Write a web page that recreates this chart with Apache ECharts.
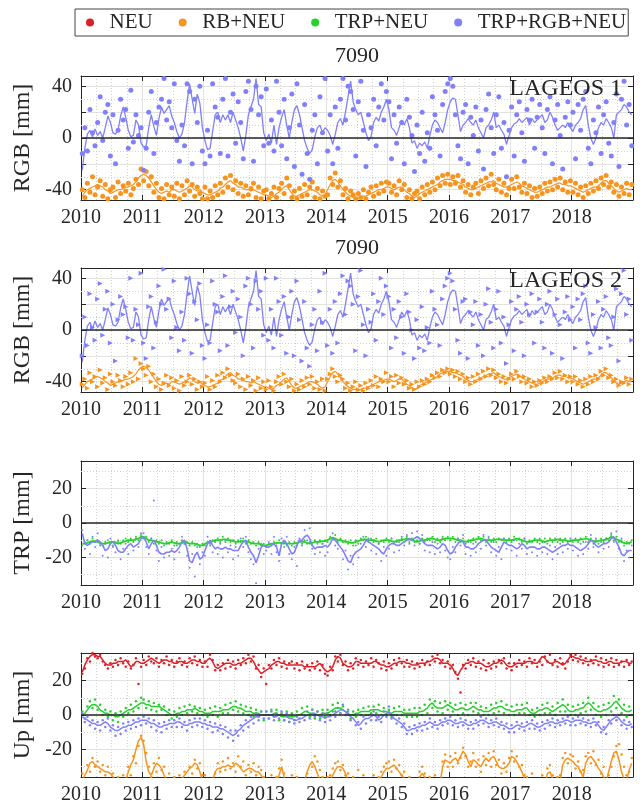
<!DOCTYPE html>
<html>
<head>
<meta charset="utf-8">
<title>7090</title>
<script src="https://cdn.jsdelivr.net/npm/echarts@6/dist/echarts.min.js"></script>
<style>
  html, body { margin: 0; padding: 0; background: #fff; }
  #chart { width: 643px; height: 806px; }
</style>
</head>
<body>
<div id="chart"></div>
<script>
// Station 7090: weekly residual series 2010-2019, one row per year.
const YEAR0 = 2010;
const YEAR1 = 2019;

// RGB panel (LAGEOS), smoothed curves
const rgbAllLine = [
  [-25,-8,3,6,1,7,2,5,0,8,17,12,4,3,6,17,24,16,6,1,2,14,10,-4],
  [-7,-6,8,18,9,2,15,24,19,22,25,17,12,5,0,3,12,28,42,30,19,34,27,8],
  [-2,-9,-8,5,18,20,12,18,14,18,12,20,14,8,0,-10,2,18,24,30,46,26,24,4],
  [-2,3,-4,10,-5,8,16,22,10,0,12,22,25,18,8,-2,-8,-12,-9,1,8,10,4,8],
  [6,2,-5,3,12,15,10,20,32,44,28,22,18,20,12,4,-2,1,12,16,13,20,24,30],
  [22,8,6,2,8,14,10,15,8,-4,-2,-8,-4,-6,-3,-8,2,10,14,12,8,4,12,22],
  [28,31,30,18,5,10,12,15,12,10,14,8,4,0,8,10,14,20,8,10,6,3,-5,2],
  [8,11,12,15,12,14,16,10,15,12,14,16,18,12,14,20,16,10,6,8,10,8,12,8],
  [5,10,12,15,22,25,10,0,-5,0,8,12,10,15,12,8,0,18,20,22,26,24,20,18]
];
const rgbRbLine = [
  [-45,-42,-40,-39,-38,-37,-36,-37,-38,-40,-41,-43,-42,-41,-40,-40,-39,-38,-38,-37,-36,-34,-31,-29],
  [-28,-29,-31,-34,-37,-40,-42,-43,-42,-41,-42,-40,-40,-41,-42,-41,-40,-39,-37,-38,-40,-41,-40,-42],
  [-43,-44,-44,-43,-42,-41,-39,-38,-36,-34,-33,-35,-36,-38,-38,-39,-40,-40,-41,-40,-41,-42,-43,-44],
  [-44,-45,-46,-45,-43,-42,-40,-38,-37,-40,-43,-45,-45,-44,-43,-42,-41,-40,-40,-41,-42,-44,-45,-44],
  [-40,-36,-33,-32,-34,-37,-40,-42,-44,-45,-46,-46,-47,-46,-45,-45,-44,-43,-42,-41,-40,-40,-39,-38],
  [-38,-39,-40,-39,-38,-38,-40,-42,-43,-45,-46,-45,-43,-42,-41,-40,-39,-38,-37,-36,-34,-33,-32,-32],
  [-32,-33,-33,-34,-35,-36,-38,-39,-40,-40,-39,-38,-37,-36,-35,-34,-34,-33,-35,-36,-37,-38,-38,-37],
  [-36,-35,-34,-35,-37,-38,-39,-40,-41,-42,-42,-41,-40,-39,-38,-38,-37,-36,-35,-35,-36,-36,-37,-37],
  [-38,-39,-40,-41,-42,-41,-40,-39,-38,-38,-37,-35,-33,-33,-35,-37,-39,-41,-42,-41,-40,-39,-40,-40]
];

// LAGEOS 1 weekly estimates
const l1AllPts = [
  [-12,8,-10,22,4,-6,12,32,-2,20,26,-14,18,-20,6,30,14,22,-8,37,-3,18,2,8],
  [-25,-8,20,36,-12,12,24,30,46,14,28,8,42,-2,-18,10,-6,42,36,-20,30,12,40,-10],
  [-20,6,-14,42,24,16,-12,30,46,-14,20,34,-4,28,12,-16,36,44,22,-18,40,18,32,-6],
  [38,-4,14,-10,44,20,-6,30,-16,8,34,-22,42,10,-28,26,-12,-32,6,18,-20,32,4,46],
  [-10,18,-20,24,-8,30,46,14,40,36,22,-14,28,44,6,-22,18,8,30,-6,24,42,14,36],
  [28,-16,18,-4,24,12,-20,30,16,2,-26,10,-12,20,-18,4,-8,32,18,6,-14,26,36,42],
  [46,40,18,-6,-16,20,26,-20,16,2,24,-10,14,-24,22,34,8,-12,18,32,-8,12,-30,6],
  [24,-14,18,28,4,-18,22,14,30,-8,16,26,8,-12,22,32,-20,14,26,2,-24,16,28,10],
  [20,-16,26,6,30,36,-8,-20,14,4,24,-12,18,28,-4,-14,12,34,-22,30,44,10,26,-6]
];
const l1RbPts = [
  [-40,-46,-35,-42,-30,-44,-38,-33,-45,-36,-47,-40,-38,-46,-34,-43,-37,-41,-35,-44,-39,-32,-36,-24],
  [-33,-26,-37,-30,-42,-35,-46,-39,-47,-36,-44,-38,-45,-35,-47,-37,-44,-33,-41,-36,-45,-38,-43,-47],
  [-38,-47,-41,-46,-37,-44,-35,-42,-31,-38,-29,-40,-33,-43,-35,-45,-37,-44,-39,-35,-46,-38,-47,-41],
  [-40,-47,-43,-38,-46,-39,-35,-43,-31,-37,-46,-41,-47,-39,-45,-36,-44,-38,-34,-46,-39,-47,-41,-45],
  [-44,-31,-36,-27,-38,-33,-44,-39,-47,-41,-44,-47,-43,-46,-40,-47,-42,-38,-45,-37,-43,-35,-41,-34],
  [-35,-42,-37,-44,-33,-40,-36,-46,-40,-47,-43,-41,-47,-38,-44,-36,-42,-34,-40,-31,-37,-29,-35,-28],
  [-36,-30,-35,-29,-38,-33,-42,-36,-44,-38,-35,-43,-33,-39,-31,-37,-28,-36,-40,-32,-42,-35,-44,-39],
  [-32,-39,-30,-38,-42,-35,-43,-37,-46,-39,-45,-38,-43,-35,-41,-34,-40,-32,-38,-31,-40,-34,-42,-33],
  [-42,-35,-44,-38,-46,-37,-43,-35,-41,-33,-39,-31,-36,-29,-38,-34,-42,-36,-45,-38,-43,-35,-44,-36]
];

// LAGEOS 2 weekly estimates
const l2AllPts = [
  [-20,10,-12,28,2,-8,24,36,-4,16,30,-10,20,-24,8,26,12,18,-6,40,-8,16,4,44],
  [-10,-22,18,26,-14,6,34,20,47,16,24,-6,38,2,-16,14,-8,40,28,-18,22,8,36,-12],
  [-22,4,-10,38,20,14,-16,26,42,-12,18,30,-2,24,10,-20,34,40,20,-14,38,16,30,-4],
  [40,-8,16,-14,40,22,-4,26,-18,10,30,-20,38,8,-24,22,-14,-28,4,16,-16,30,6,44],
  [-12,16,-18,22,-10,28,42,12,38,34,20,-16,26,46,4,-20,16,6,28,-8,22,40,12,34],
  [26,-14,16,-6,22,10,-18,28,14,0,-22,8,-14,18,-16,2,-10,30,16,4,-12,24,34,40],
  [44,38,16,-8,-18,22,24,-22,14,4,22,-12,12,-20,20,32,6,-14,16,30,-10,10,-26,4],
  [22,-16,16,26,6,-20,20,12,28,-10,14,24,6,-14,20,30,-18,12,24,4,-22,14,26,8],
  [18,-14,24,8,28,34,-10,-18,12,2,22,-14,16,26,-6,-12,10,32,-24,28,46,12,24,-8]
];
const l2RbPts = [
  [-42,-38,-45,-33,-40,-36,-44,-31,-41,-37,-46,-34,-40,-43,-35,-39,-44,-36,-42,-33,-40,-22,-38,-26],
  [-30,-35,-28,-40,-34,-44,-38,-46,-41,-35,-43,-37,-45,-39,-47,-36,-43,-40,-35,-42,-38,-46,-40,-44],
  [-41,-36,-46,-39,-44,-35,-40,-33,-37,-30,-35,-39,-41,-34,-44,-38,-46,-36,-43,-39,-47,-37,-45,-40],
  [-46,-39,-44,-47,-40,-36,-42,-34,-40,-44,-38,-47,-42,-46,-39,-44,-37,-42,-36,-45,-40,-46,-38,-47],
  [-38,-34,-30,-36,-40,-35,-38,-45,-41,-47,-44,-40,-46,-43,-47,-41,-45,-39,-43,-36,-44,-38,-40,-33],
  [-40,-36,-44,-35,-41,-37,-42,-39,-45,-42,-46,-40,-44,-39,-42,-38,-40,-35,-37,-33,-36,-31,-33,-30],
  [-34,-31,-36,-32,-38,-34,-40,-37,-42,-36,-40,-34,-38,-32,-36,-30,-35,-31,-37,-34,-40,-36,-41,-38],
  [-34,-38,-32,-36,-40,-36,-41,-38,-44,-40,-43,-39,-41,-37,-40,-36,-38,-33,-37,-32,-38,-35,-40,-36],
  [-40,-36,-42,-39,-44,-38,-42,-36,-40,-35,-38,-32,-35,-30,-37,-35,-40,-38,-43,-40,-41,-37,-42,-38]
];

// TRP panel
const trpTrpLine = [
  [-12,-12,-11.5,-11,-10.5,-10.5,-11,-11.5,-12,-12,-11.5,-11,-11,-11.5,-12,-11.5,-11,-10.5,-10,-10,-10,-9.5,-9,-8],
  [-8,-9,-10,-10,-10.5,-11,-11,-11.5,-12,-12,-11.5,-11,-11.5,-12,-12,-11.5,-11,-11.5,-12,-12,-12,-12.5,-13,-13],
  [-12,-11.5,-11,-10.5,-10,-10,-10,-9.5,-9.5,-10,-10,-10.5,-11,-11,-10.5,-10.5,-11,-11,-11.5,-12,-12,-12,-12.5,-13],
  [-13,-12.5,-12,-12,-11.5,-11.5,-11.5,-12,-12,-12,-12,-12,-11.5,-11,-11,-11,-11.5,-12,-11.5,-11,-11,-11,-10.5,-10.5],
  [-10,-9,-8.5,-9,-10,-10,-10.5,-11,-11,-11.5,-11.5,-11,-10.5,-10,-9.5,-9.5,-10,-10,-10,-10.5,-11,-10.5,-10,-10],
  [-10,-10.5,-11,-10.5,-10,-10,-9.5,-9,-9.5,-10,-10.5,-11,-10.5,-10,-10,-9.5,-9,-9,-9.5,-10,-10,-9.5,-9,-9],
  [-9,-9,-9.5,-10,-10,-10.5,-11,-10.5,-10,-10,-9.5,-9,-9,-9.5,-10,-10,-10,-10,-9.5,-9.5,-9.5,-10,-10,-10],
  [-10,-9.5,-9,-9.5,-10,-10.5,-11,-11,-10.5,-10,-10,-10,-10.5,-11,-10.5,-10,-10,-10,-9.5,-10,-10,-10,-10.5,-10.5],
  [-10,-10,-10,-9.5,-9.5,-9,-9.5,-10,-10.5,-11,-10.5,-10,-10,-9.5,-9,-8,-8.5,-9.5,-10,-11,-11.5,-12,-11.5,-11]
];
const trpAllLine = [
  [-6,-12,-13,-12,-11,-11,-10,-11,-13,-16,-15,-12,-11,-13,-16,-17,-17,-15,-13,-12,-14,-13,-12,-9],
  [-8,-11,-15,-12,-10,-13,-17,-18,-18,-17,-17,-16,-17,-16,-14,-11,-10,-15,-22,-23,-19,-17,-21,-20],
  [-16,-12,-10,-13,-15,-14,-15,-15,-14,-15,-15,-16,-16,-16,-13,-11,-10,-14,-17,-19,-23,-19,-14,-13],
  [-14,-14,-13,-12,-14,-19,-12,-10,-12,-15,-18,-17,-13,-10,-10,-8,-7,-9,-13,-15,-14,-14,-14,-13],
  [-14,-12,-9,-10,-12,-14,-16,-19,-22,-23,-19,-17,-16,-15,-13,-10,-11,-12,-13,-14,-15,-17,-18,-15],
  [-13,-12,-12,-13,-13,-12,-11,-10,-9,-10,-9,-8,-9,-10,-12,-13,-13,-13,-14,-15,-14,-12,-13,-16],
  [-18,-17,-14,-12,-10,-11,-14,-14,-15,-15,-14,-12,-11,-10,-10,-12,-14,-15,-16,-17,-14,-11,-12,-13],
  [-13,-14,-15,-14,-12,-13,-15,-14,-14,-14,-15,-15,-14,-14,-15,-16,-17,-16,-15,-14,-13,-13,-12,-13],
  [-13,-14,-15,-16,-15,-14,-12,-10,-11,-13,-14,-13,-12,-12,-11,-9,-8,-11,-14,-18,-19,-17,-16,-16]
];
const trpTrpPts = [
  [-13,-11,-10,-12,-9,-11,-10,-12,-13,-11,-10,-12,-13,-11,-10,-12,-10,-9,-11,-9,-11,-8,-10,-7],
  [-9,-8,-11,-9,-12,-10,-12,-10,-13,-11,-12,-10,-13,-11,-12,-10,-12,-11,-13,-11,-13,-12,-14,-12],
  [-13,-11,-12,-10,-11,-9,-11,-8,-11,-9,-11,-10,-12,-10,-11,-9,-12,-10,-12,-11,-13,-11,-13,-12],
  [-14,-12,-13,-11,-13,-10,-12,-11,-13,-11,-13,-11,-13,-10,-12,-10,-12,-11,-13,-10,-12,-10,-12,-10],
  [-11,-8,-9,-7,-11,-9,-11,-10,-12,-10,-13,-10,-12,-9,-10,-8,-11,-9,-11,-9,-12,-10,-11,-9],
  [-11,-9,-12,-10,-11,-9,-11,-8,-11,-9,-11,-10,-12,-9,-11,-9,-10,-8,-11,-9,-11,-8,-10,-8],
  [-10,-8,-11,-9,-11,-9,-12,-10,-11,-9,-11,-8,-10,-8,-11,-9,-11,-9,-11,-9,-10,-9,-11,-9],
  [-11,-8,-10,-9,-11,-9,-12,-10,-11,-9,-11,-9,-11,-9,-12,-9,-11,-9,-11,-9,-11,-9,-11,-10],
  [-11,-9,-11,-9,-11,-8,-11,-9,-12,-10,-12,-9,-11,-9,-10,-7,-10,-8,-11,-10,-13,-11,-12,-10]
];
const trpAllPts = [
  [-4,-15,-10,-18,-8,-14,-6,-13,-19,-12,-20,-9,-14,-17,-11,-21,-15,-12,-18,-10,-16,-9,-14,-6],
  [-6,-14,-18,-9,13,-16,-22,-14,-20,-12,-19,-15,-21,-13,-17,-8,-12,-19,-26,-18,-31,-14,-24,-17],
  [-19,-8,-13,-17,-11,-18,-12,-20,-10,-17,-13,-21,-14,-19,-9,-14,-8,-17,-21,-24,-35,-15,-12,-18],
  [-16,-11,-18,-8,-17,-22,-9,-14,-8,-18,-21,-14,-25,-9,-13,-4,-10,-3,-15,-18,-11,-17,-12,-19],
  [-17,-9,-6,-13,-15,-10,-21,-16,-27,-19,-24,-13,-20,-12,-8,-14,-9,-16,-10,-18,-12,-22,-14,-19],
  [-15,-9,-17,-11,-16,-8,-13,-7,-12,-6,-13,-5,-12,-7,-16,-10,-17,-11,-18,-12,-17,-9,-16,-20],
  [-21,-14,-17,-9,-13,-7,-18,-11,-19,-12,-17,-9,-15,-7,-13,-8,-17,-11,-19,-14,-21,-9,-15,-10],
  [-16,-10,-19,-12,-15,-9,-18,-11,-17,-10,-19,-12,-17,-11,-18,-13,-21,-14,-18,-12,-17,-10,-15,-9],
  [-16,-10,-19,-12,-18,-11,-15,-7,-14,-9,-17,-11,-15,-9,-14,-6,-11,-5,-15,-9,-22,-16,-20,-13]
];

// Up panel
const upNeuLine = [
  [25,29,32,34,35,35,34,34,32,30,29,29,30,30,31,31,31,32,30,28,29,31,31,30],
  [30,31,32,33,32,31,30,31,32,32,31,31,30,30,31,31,30,30,31,32,32,31,31,30],
  [30,32,33,31,28,27,28,29,30,30,30,29,29,30,30,31,32,33,33,31,28,26,24,25],
  [26,27,29,30,31,31,30,30,29,29,29,29,29,29,29,28,28,28,28,28,29,30,28,26],
  [25,26,28,32,34,33,30,29,28,28,29,31,31,30,30,30,30,30,31,31,30,29,29,28],
  [28,29,30,30,31,31,31,30,30,29,29,29,30,30,30,31,31,32,33,33,32,30,30,30],
  [29,27,24,23,26,28,30,30,31,31,30,30,30,29,28,28,29,30,30,31,32,31,29,28],
  [28,29,30,30,30,30,31,31,31,30,30,32,34,33,31,30,30,31,31,30,29,30,32,34],
  [34,33,33,32,32,31,31,31,32,32,31,31,30,30,31,31,30,30,30,31,31,31,30,30]
];
const upTrpLine = [
  [0,1,3,5,6,6,5,3,2,1,1,0,0,-1,-1,0,1,2,3,3,4,5,6,7],
  [7,6,6,5,5,5,5,4,3,2,1,0,0,1,1,2,2,3,3,3,4,3,2,2],
  [1,1,1,2,2,2,2,3,3,3,4,5,5,4,4,3,2,2,2,1,1,1,0,0],
  [0,0,0,1,1,0,-1,-1,-1,-1,-1,-1,0,0,1,2,2,1,1,0,0,0,1,1],
  [1,2,3,4,4,4,3,2,1,0,0,1,1,2,2,2,2,3,3,3,3,2,2,2],
  [1,1,2,2,2,2,1,1,1,1,1,1,2,2,3,4,6,7,5,4,4,4,5,6],
  [5,4,3,3,4,4,3,3,4,5,4,3,3,2,2,2,3,4,4,5,5,4,3,3],
  [2,2,3,3,3,4,4,2,1,1,2,3,3,4,4,3,2,3,4,5,6,5,3,2],
  [2,3,3,4,4,6,7,6,4,3,2,2,3,3,4,5,7,8,6,4,3,2,2,3]
];
const upAllLine = [
  [-1,-2,-3,-4,-5,-5,-6,-6,-5,-4,-5,-7,-8,-9,-9,-8,-7,-7,-6,-6,-5,-4,-4,-3],
  [-3,-3,-4,-5,-5,-6,-7,-7,-6,-6,-5,-5,-5,-4,-4,-5,-6,-6,-5,-5,-4,-4,-4,-5],
  [-5,-6,-6,-7,-7,-7,-8,-8,-9,-10,-11,-12,-11,-9,-8,-6,-5,-4,-3,-2,-1,-1,0,0],
  [0,0,0,-1,-1,0,0,0,-1,-2,-2,-3,-3,-2,-2,-1,0,0,1,1,0,-1,-1,-2],
  [-1,-1,0,1,2,3,3,2,0,-1,-2,-4,-6,-5,-3,-2,-2,-1,0,-1,-3,-2,0,1],
  [2,0,-2,-3,-4,-5,-7,-9,-9,-8,-8,-7,-7,-6,-6,-5,-4,-5,-6,-6,-5,-4,-4,-3],
  [-3,-4,-5,-5,-4,-4,-5,-6,-6,-5,-5,-4,-3,-3,-4,-5,-5,-4,-4,-5,-6,-6,-7,-8],
  [-8,-7,-6,-6,-7,-7,-6,-5,-5,-6,-7,-7,-6,-5,-5,-4,-4,-5,-5,-4,-4,-3,-3,-4],
  [-4,-3,-3,-3,-4,-4,-5,-5,-4,-4,-6,-8,-9,-7,-5,-3,-2,-1,-2,-4,-5,-6,-6,-5]
];
const upRbLine = [
  [-38,-35,-32,-28,-27,-29,-30,-31,-32,-33,-33,-34,-36,-38,-40,-40,-40,-38,-33,-29,-26,-20,-15,-13],
  [-17,-27,-33,-35,-31,-28,-29,-31,-35,-38,-40,-40,-40,-39,-38,-37,-35,-33,-31,-30,-28,-29,-33,-38],
  [-40,-40,-40,-38,-33,-31,-31,-30,-30,-29,-30,-30,-28,-29,-31,-33,-32,-31,-31,-32,-33,-33,-35,-37],
  [-40,-40,-40,-40,-39,-35,-30,-36,-40,-40,-40,-40,-40,-40,-40,-38,-33,-29,-27,-30,-34,-38,-40,-40],
  [-40,-38,-35,-32,-30,-30,-31,-34,-38,-40,-40,-40,-40,-40,-40,-40,-40,-40,-40,-40,-39,-36,-33,-31],
  [-31,-30,-29,-31,-33,-35,-37,-39,-40,-40,-40,-40,-36,-34,-36,-38,-40,-40,-40,-40,-40,-30,-26,-27],
  [-28,-26,-25,-27,-24,-21,-23,-27,-30,-26,-27,-29,-30,-27,-25,-27,-25,-24,-27,-30,-31,-31,-30,-28],
  [-24,-25,-27,-30,-33,-37,-40,-40,-40,-40,-40,-40,-40,-40,-34,-33,-37,-40,-40,-38,-29,-26,-25,-26],
  [-27,-29,-30,-33,-36,-28,-25,-24,-26,-28,-31,-33,-36,-38,-33,-27,-22,-21,-26,-33,-37,-38,-32,-28]
];
const upNeuPts = [
  [24,27,33,31,36,34,33,35,31,29,27,30,28,32,29,33,30,28,31,27,29,33,18,28],
  [32,29,34,31,30,33,28,32,30,34,29,32,28,31,33,29,31,28,33,30,34,29,32,28],
  [31,28,35,32,26,29,26,30,27,32,28,31,27,32,29,33,30,35,31,34,27,29,22,27],
  [18,29,27,32,29,33,28,31,27,30,31,27,30,26,31,27,29,26,30,27,31,26,29,24],
  [23,28,26,34,31,35,29,31,26,30,27,33,29,32,28,31,29,33,28,32,30,27,31,26],
  [30,27,32,29,33,30,28,32,28,31,27,30,28,32,29,31,29,34,31,35,30,32,28,31],
  [27,29,25,21,13,29,27,32,29,33,28,31,27,32,26,30,27,31,28,32,30,33,27,30],
  [26,30,28,32,29,31,28,33,30,32,28,31,29,34,31,35,29,32,28,33,30,27,31,35],
  [32,35,31,34,30,33,29,32,30,34,29,33,28,32,29,33,28,32,29,31,28,32,29,31]
];
const upTrpPts = [
  [2,-2,5,8,4,9,3,6,0,3,-1,2,-3,1,-4,2,-1,4,1,6,2,8,4,10],
  [9,4,8,3,7,2,6,3,5,0,3,-2,2,-1,4,0,5,1,6,2,5,1,4,0],
  [3,-1,4,0,5,-1,4,1,6,1,7,3,8,2,6,1,5,0,4,-1,3,-1,2,-3],
  [2,-2,3,-1,3,-3,1,-3,2,-4,1,-3,2,-2,4,0,5,-1,3,-2,2,-2,3,-1],
  [3,0,6,2,7,1,5,0,3,-2,2,-1,3,0,4,0,5,1,5,1,6,0,4,0],
  [3,-1,4,0,5,0,3,-1,3,-1,4,-1,4,0,6,1,9,4,8,2,7,1,8,3],
  [7,2,6,0,7,1,6,0,7,2,7,1,5,0,4,0,6,1,7,2,8,1,6,0],
  [5,0,6,1,6,1,7,0,3,-1,4,0,6,1,7,1,5,0,7,2,9,2,6,0],
  [5,0,6,1,7,2,10,3,7,0,5,-1,6,0,7,2,11,4,9,1,6,-1,5,0]
];
const upAllPts = [
  [1,-4,-1,-6,-3,-8,-4,-9,-3,-7,-2,-9,-6,-12,-7,-11,-5,-9,-4,-8,-3,-7,-2,-6],
  [-1,-5,-2,-7,-3,-9,-5,-10,-4,-8,-3,-7,-3,-7,-2,-7,-4,-9,-3,-7,-2,-6,-2,-7],
  [-3,-8,-4,-10,-5,-9,-6,-11,-7,-13,-9,-15,-9,-12,-6,-9,-3,-7,-1,-5,1,-3,2,-2],
  [2,-2,2,-3,1,-2,2,-3,1,-4,0,-5,-1,-4,0,-3,2,-2,3,-1,2,-3,1,-4],
  [1,-3,2,-1,4,1,6,0,2,-3,0,-6,-4,-8,-1,-5,0,-3,2,-3,-1,-4,2,-1],
  [5,-2,0,-5,-2,-7,-5,-11,-7,-11,-6,-9,-5,-9,-4,-8,-2,-7,-4,-8,-3,-6,-2,-5],
  [-1,-6,-3,-7,-2,-6,-3,-8,-4,-8,-3,-6,-1,-5,-2,-7,-3,-6,-2,-7,-4,-8,-5,-10],
  [-6,-10,-4,-8,-5,-9,-4,-8,-3,-8,-5,-9,-4,-8,-3,-6,-2,-7,-3,-6,-2,-5,-1,-6],
  [-2,-6,-1,-5,-2,-6,-3,-7,-2,-6,-4,-10,-7,-11,-3,-5,0,-3,0,-6,-3,-8,-4,-7]
];
const upRbPts = [
  [-34,-38,-29,-33,-25,-30,-27,-33,-29,-35,-30,-37,-34,-38,-36,-38,-35,-37,-30,-35,-24,-28,-18,-12],
  [-15,-22,-30,-36,-28,-33,-25,-32,-30,-37,-34,-38,-36,-38,-35,-38,-33,-37,-30,-34,-26,-31,-28,-35],
  [-35,-38,-37,-38,-34,-28,-33,-27,-32,-25,-31,-28,-33,-24,-30,-27,-35,-29,-33,-28,-35,-30,-32,-36],
  [-37,-38,-35,-38,-36,-31,-26,-34,-37,-38,-35,-38,-36,-38,-37,-38,-34,-38,-30,-24,-27,-32,-36,-38],
  [-36,-35,-31,-28,-27,-32,-29,-35,-34,-38,-36,-38,-32,-38,-35,-38,-37,-38,-35,-38,-36,-33,-30,-28],
  [-27,-33,-26,-31,-29,-35,-33,-38,-36,-38,-37,-38,-33,-30,-34,-38,-36,-38,-35,-38,-37,-27,-23,-30],
  [-24,-30,-22,-28,-25,-19,-24,-30,-27,-22,-30,-26,-33,-24,-29,-22,-30,-21,-29,-26,-34,-28,-33,-25],
  [-21,-27,-24,-30,-29,-35,-36,-38,-34,-38,-37,-38,-35,-38,-31,-29,-35,-38,-36,-35,-25,-22,-28,-23],
  [-24,-31,-27,-33,-32,-24,-22,-28,-21,-29,-26,-34,-30,-38,-35,-30,-24,-18,-17,-23,-30,-35,-33,-25]
];

// Legend entries, axis names and panel annotations
const legendNames = ['NEU', 'RB+NEU', 'TRP+NEU', 'TRP+RGB+NEU'];
const yNames = ['RGB [mm]', 'RGB [mm]', 'TRP [mm]', 'Up [mm]'];
const panelTitles = ['7090', '7090', '', ''];
const panelTags = ['LAGEOS 1', 'LAGEOS 2', '', ''];
const yLimits = [[-48, 48], [-48, 48], [-36, 36], [-36, 36]];
const yLabelStep = [40, 40, 20, 20];
const yDotted = [[-30, -10, 10, 30], [-30, -10, 10, 30], [-30, -10, 10, 30], [-30, -10, 10, 30]];

const COLORS = { 'NEU': '#dc2027', 'RB+NEU': '#f7941e', 'TRP+NEU': '#26d12a', 'TRP+RGB+NEU': '#8080fb' };
const FONT = '"Liberation Serif", "DejaVu Serif", serif';
const INK = '#262626';
const GRID_TOPS = [76, 268, 461, 653];
const GRID_H = 124;
const GRID_LEFT = 81;
const GRID_W = 552;

// expand per-year rows into [decimal year, value] pairs
function toPairs(rows) {
  const out = [];
  rows.forEach((row, y) => {
    row.forEach((v, k) => out.push([YEAR0 + y + (k + 0.5) / row.length, v]));
  });
  return out;
}

const grids = [], xAxes = [], yAxes = [], series = [], graphics = [];

GRID_TOPS.forEach((top, g) => {
  grids.push({ left: GRID_LEFT, top: top, width: GRID_W, height: GRID_H, show: false });
  const [ymin, ymax] = yLimits[g];
  xAxes.push({
    gridIndex: g, type: 'value', position: 'bottom', min: YEAR0, max: YEAR1, interval: 1,
    axisLine: { show: true, onZero: false, lineStyle: { color: INK, width: 1 } },
    axisTick: { show: true, inside: true, length: 5, lineStyle: { color: INK } },
    axisLabel: { fontFamily: FONT, fontSize: 20, color: INK, margin: 8, interval: 0,
      formatter: v => (v < YEAR1 ? String(v) : '') },
    splitLine: { show: true, lineStyle: { color: '#e2e2e2', width: 1 } },
    minorTick: { show: false, splitNumber: 4 },
    minorSplitLine: { show: true, lineStyle: { color: '#d2d2d2', width: 1, type: [1, 2] } }
  });
  xAxes.push({
    gridIndex: g, type: 'value', position: 'top', min: YEAR0, max: YEAR1, interval: 1,
    axisLine: { show: true, onZero: false, lineStyle: { color: INK, width: 1 } },
    axisTick: { show: true, inside: true, length: 5, lineStyle: { color: INK } },
    axisLabel: { show: false }, splitLine: { show: false }
  });
  yAxes.push({
    gridIndex: g, type: 'value', position: 'left', min: ymin, max: ymax, splitNumber: 4,
    name: yNames[g], nameLocation: 'middle', nameGap: 35,
    nameTextStyle: { fontFamily: FONT, fontSize: 24, color: INK },
    axisLine: { show: true, onZero: false, lineStyle: { color: INK, width: 1 } },
    axisTick: { show: true, inside: true, length: 5, lineStyle: { color: INK } },
    axisLabel: { fontFamily: FONT, fontSize: 20, color: INK, margin: 9,
      formatter: v => (v % yLabelStep[g] === 0 ? String(v) : '') },
    splitLine: { show: true, lineStyle: { color: '#e2e2e2', width: 1 } }
  });
  yAxes.push({
    gridIndex: g, type: 'value', position: 'right', min: ymin, max: ymax, splitNumber: 4,
    axisLine: { show: true, onZero: false, lineStyle: { color: INK, width: 1 } },
    axisTick: { show: true, inside: true, length: 5, lineStyle: { color: INK } },
    axisLabel: { show: false }, splitLine: { show: false }
  });

  // dotted 10 mm grid and the solid zero line
  series.push({
    type: 'line', xAxisIndex: 2 * g, yAxisIndex: 2 * g, data: [], silent: true,
    markLine: { silent: true, symbol: 'none', z: 1, animation: false, label: { show: false },
      data: yDotted[g].map(v => ({ yAxis: v, lineStyle: { color: '#d2d2d2', width: 1, type: [1, 2] } })) }
  });
  series.push({
    type: 'line', xAxisIndex: 2 * g, yAxisIndex: 2 * g, data: [], silent: true,
    markLine: { silent: true, symbol: 'none', z: 6, animation: false, label: { show: false },
      data: [{ yAxis: 0, lineStyle: { color: INK, width: 1.6, type: 'solid' } }] }
  });

  if (panelTitles[g]) {
    graphics.push({ type: 'text', x: GRID_LEFT + GRID_W / 2, y: top - 20, z: 10,
      style: { text: panelTitles[g], font: '22px ' + FONT, fill: INK,
        align: 'center', verticalAlign: 'middle', textAlign: 'center', textVerticalAlign: 'middle' } });
  }
  if (panelTags[g]) {
    graphics.push({ type: 'text', x: GRID_LEFT + GRID_W - 11, y: top + 13, z: 10,
      style: { text: panelTags[g], font: '24px ' + FONT, fill: INK,
        align: 'right', verticalAlign: 'middle', textAlign: 'right', textVerticalAlign: 'middle' } });
  }
});

function scatter(g, name, rows, size, extra) {
  series.push(Object.assign({
    type: 'scatter', name: name, xAxisIndex: 2 * g, yAxisIndex: 2 * g, clip: true, z: 3,
    symbol: 'circle', symbolSize: size, data: toPairs(rows),
    itemStyle: { color: COLORS[name], opacity: 1 }, emphasis: { disabled: true }
  }, extra || {}));
}
function curve(g, name, rows, width) {
  series.push({
    type: 'line', name: name, xAxisIndex: 2 * g, yAxisIndex: 2 * g, clip: true, z: 4,
    showSymbol: false, data: toPairs(rows),
    lineStyle: { color: COLORS[name], width: width }, itemStyle: { color: COLORS[name] },
    emphasis: { disabled: true }
  });
}

// panel 1: LAGEOS 1
scatter(0, 'RB+NEU', l1RbPts, 5);
curve(0, 'RB+NEU', rgbRbLine, 1.2);
scatter(0, 'TRP+RGB+NEU', l1AllPts, 5);
curve(0, 'TRP+RGB+NEU', rgbAllLine, 1.3);

// panel 2: LAGEOS 2
const tri = { symbol: 'triangle', symbolRotate: -90 };
scatter(1, 'RB+NEU', l2RbPts, 5, tri);
curve(1, 'RB+NEU', rgbRbLine, 1.2);
scatter(1, 'TRP+RGB+NEU', l2AllPts, 5, tri);
curve(1, 'TRP+RGB+NEU', rgbAllLine, 1.3);

// panel 3: troposphere
scatter(2, 'TRP+NEU', trpTrpPts, 2);
scatter(2, 'TRP+RGB+NEU', trpAllPts, 2);
curve(2, 'TRP+NEU', trpTrpLine, 1.8);
curve(2, 'TRP+RGB+NEU', trpAllLine, 1.6);

// panel 4: up component
scatter(3, 'NEU', upNeuPts, 2.5);
scatter(3, 'RB+NEU', upRbPts, 2.5);
scatter(3, 'TRP+NEU', upTrpPts, 2.5);
scatter(3, 'TRP+RGB+NEU', upAllPts, 2.5);
curve(3, 'NEU', upNeuLine, 1.5);
curve(3, 'RB+NEU', upRbLine, 1.5);
curve(3, 'TRP+NEU', upTrpLine, 1.5);
curve(3, 'TRP+RGB+NEU', upAllLine, 1.5);

const chart = echarts.init(document.getElementById('chart'), null, { renderer: 'canvas' });
chart.setOption({
  animation: false,
  backgroundColor: '#ffffff',
  legend: {
    left: 75, top: 9, orient: 'horizontal',
    padding: [3, 2, 3, 11], itemGap: 26, itemWidth: 29, itemHeight: 8, symbolKeepAspect: true,
    borderColor: '#444', borderWidth: 1, backgroundColor: '#fff',
    textStyle: { fontFamily: FONT, fontSize: 21, color: INK },
    data: legendNames.map(n => ({ name: n, icon: 'circle', itemStyle: { color: COLORS[n] } }))
  },
  grid: grids,
  xAxis: xAxes,
  yAxis: yAxes,
  graphic: graphics,
  series: series
});
</script>
</body>
</html>
